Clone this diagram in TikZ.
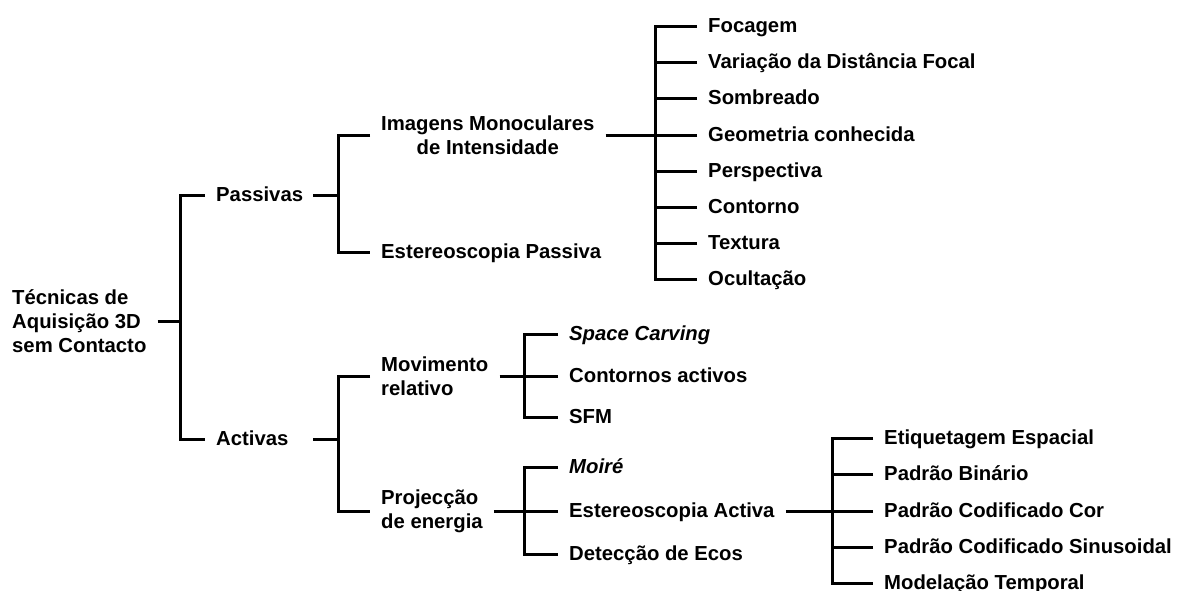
\documentclass[tikz,border=0pt]{standalone}
\usepackage{fontspec}
\setmainfont{Liberation Sans}
\tikzset{
  lbl/.style={anchor=west, inner xsep=11pt, inner ysep=0pt, text height=13pt, text depth=1pt,
    font=\fontsize{20.3}{24}\selectfont\bfseries},
  mlbl/.style={anchor=west, inner xsep=11pt, inner ysep=0pt,
    font=\fontsize{20.3}{24}\selectfont\bfseries},
  conn/.style={line width=3pt, line join=miter, line cap=butt},
}
\begin{document}
\begin{tikzpicture}[x=1pt,y=-1pt]
\useasboundingbox (0,0) rectangle (1185,591);
% level 0
\node[mlbl, align=left] (root) at (1,321) {Técnicas de\\Aquisição 3D\\sem Contacto};
% level 1
\node[lbl, text width=86pt] (pas) at (205,195) {Passivas};
\node[lbl, text width=86pt] (act) at (205,439) {Activas};
% passive branch
\node[mlbl, align=center] (mono) at (370,135.5) {Imagens Monoculares\\de Intensidade};
\node[lbl] (estp) at (370,252) {Estereoscopia Passiva};
\node[lbl] (m1) at (697,27) {Focagem};
\node[lbl] (m2) at (697,63) {Variação da Distância Focal};
\node[lbl] (m3) at (697,99) {Sombreado};
\node[lbl] (m4) at (697,135.5) {Geometria conhecida};
\node[lbl] (m5) at (697,171) {Perspectiva};
\node[lbl] (m6) at (697,207) {Contorno};
\node[lbl] (m7) at (697,243) {Textura};
\node[lbl] (m8) at (697,279) {Ocultação};
% active branch
\node[mlbl, align=left] (mov) at (370,376) {Movimento\\relativo};
\node[mlbl, align=left] (proj) at (370,511) {Projecção\\de energia};
\node[lbl] (v1) at (558,334) {\itshape Space Carving};
\node[lbl] (v2) at (558,376) {Contornos activos};
\node[lbl] (v3) at (558,417) {SFM};
\node[lbl] (p1) at (558,467) {\itshape Moiré};
\node[lbl] (p2) at (558,511) {Estereoscopia Activa};
\node[lbl] (p3) at (558,554) {Detecção de Ecos};
\node[lbl] (e1) at (873,438) {Etiquetagem Espacial};
\node[lbl] (e2) at (873,474.5) {Padrão Binário};
\node[lbl] (e3) at (873,511) {Padrão Codificado Cor};
\node[lbl] (e4) at (873,547) {Padrão Codificado Sinusoidal};
\node[lbl] (e5) at (873,583) {Modelação Temporal};
% junctions
\coordinate (j1) at (180,321);
\coordinate (j2) at (338,195);
\coordinate (j3) at (655,135.5);
\coordinate (j4) at (338,439);
\coordinate (j5) at (524,376);
\coordinate (j6) at (524,511);
\coordinate (j7) at (832,511);
% connectors
\draw[conn] (root.east) -- (j1);
\draw[conn] (pas.west) -| (j1) |- (act.west);
\draw[conn] (pas.east) -- (j2);
\draw[conn] (mono.west) -| (j2) |- (estp.west);
\draw[conn] (mono.east) -- (j3);
\draw[conn] (m1.west) -| (j3) |- (m8.west);
\foreach \c in {m2,m3,m4,m5,m6,m7} \draw[conn] (\c.west) -- (\c.west -| j3);
\draw[conn] (act.east) -- (j4);
\draw[conn] (mov.west) -| (j4) |- (proj.west);
\draw[conn] (mov.east) -- (j5);
\draw[conn] (v1.west) -| (j5) |- (v3.west);
\draw[conn] (v2.west) -- (j5);
\draw[conn] (proj.east) -- (j6);
\draw[conn] (p1.west) -| (j6) |- (p3.west);
\draw[conn] (p2.west) -- (j6);
\draw[conn] (p2.east) -- (j7);
\draw[conn] (e1.west) -| (j7) |- (e5.west);
\foreach \c in {e2,e3,e4} \draw[conn] (\c.west) -- (\c.west -| j7);
\end{tikzpicture}
\end{document}
